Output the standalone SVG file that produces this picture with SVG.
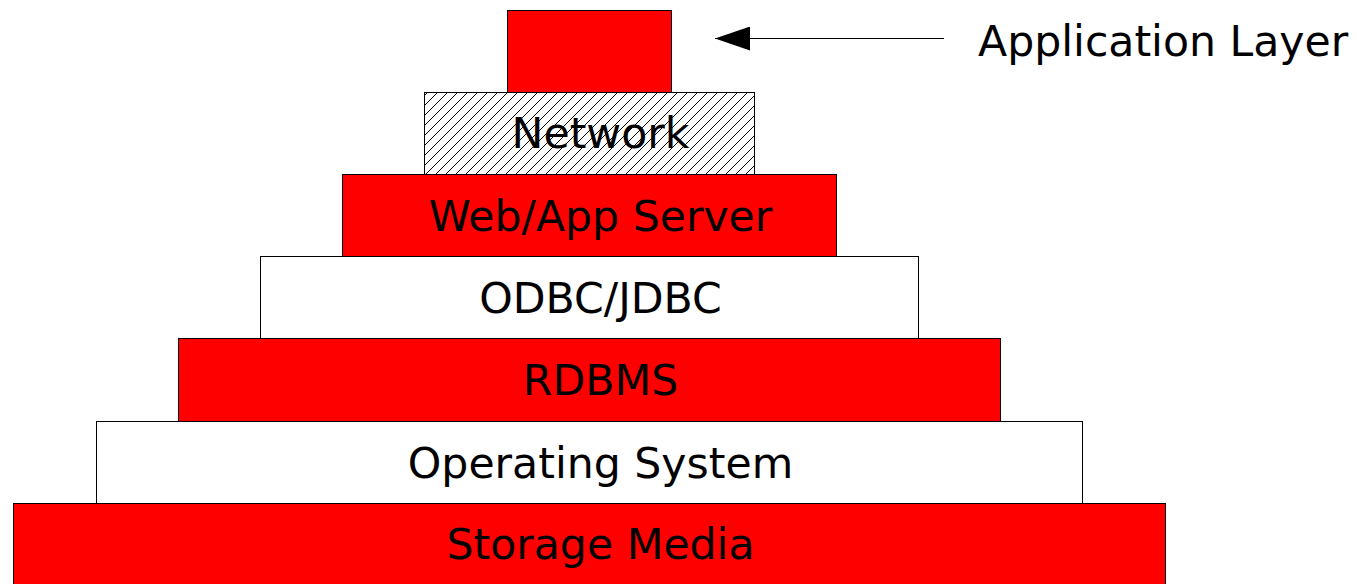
<svg xmlns="http://www.w3.org/2000/svg" width="1357" height="584" viewBox="0 0 1357 584">
<defs>
<pattern id="hatch" patternUnits="userSpaceOnUse" width="10" height="10">
<path d="M-1,1 L1,-1 M0,10 L10,0 M9,11 L11,9" stroke="#000" stroke-width="1"/>
</pattern>
<marker id="arrow" markerUnits="userSpaceOnUse" markerWidth="36" markerHeight="24" refX="35" refY="12" orient="auto">
<path d="M0,0 L35,12 L0,24 Z" fill="#000"/>
</marker>
</defs>
<style>
.red{fill:#ff0000;stroke:#000;stroke-width:1}
.white{fill:#fff;stroke:#000;stroke-width:1}
.hatch{fill:url(#hatch);stroke:#000;stroke-width:1}
text{font-family:"DejaVu Sans",sans-serif;font-size:42.6px;fill:#000}
.c{text-anchor:middle}
</style>
<rect width="1357" height="584" fill="#fff"/>
<g id="storage-media"><rect class="red" x="13.5" y="503.5" width="1152" height="83"/><text class="c" x="600.5" y="559">Storage Media</text></g>
<g id="operating-system"><rect class="white" x="96.5" y="421.5" width="986" height="82"/><text class="c" x="600.5" y="478">Operating System</text></g>
<g id="rdbms"><rect class="red" x="178.5" y="338.5" width="822" height="83"/><text class="c" x="600.5" y="395">RDBMS</text></g>
<g id="odbc-jdbc"><rect class="white" x="260.5" y="256.5" width="658" height="82"/><text class="c" x="600.5" y="313">ODBC/JDBC</text></g>
<g id="web-app-server"><rect class="red" x="342.5" y="174.5" width="494" height="82"/><text class="c" x="600.5" y="231">Web/App Server</text></g>
<g id="network"><rect class="hatch" x="424.5" y="92.5" width="330" height="82"/><text class="c" x="600.5" y="148">Network</text></g>
<g id="application"><rect class="red" x="507.5" y="10.5" width="164" height="82"/></g>
<g id="application-label"><text x="978" y="56">Application Layer</text></g>
<g id="connectors"><line x1="944" y1="38.5" x2="715" y2="38.5" stroke="#000" stroke-width="1" marker-end="url(#arrow)"/></g>
</svg>
